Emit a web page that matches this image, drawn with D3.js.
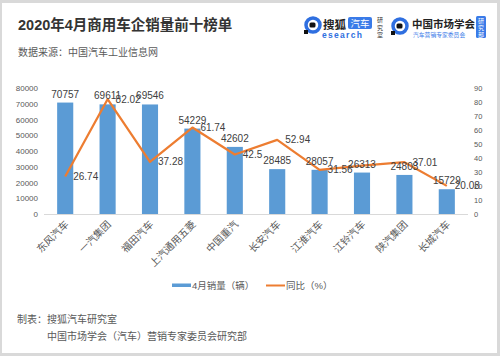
<!DOCTYPE html>
<html><head><meta charset="utf-8">
<script src="https://cdn.jsdelivr.net/npm/d3@7"></script>
<style>html,body{margin:0;padding:0;background:#fff;}svg{display:block;}
text{font-family:"Liberation Sans","Noto Sans CJK SC",sans-serif;}</style>
</head><body><svg id="c" width="500" height="356"></svg>
<script>
const categories = ['东风汽车','一汽集团','福田汽车','上汽通用五菱','中国重汽','长安汽车','江淮汽车','江铃汽车','陕汽集团','长城汽车'];
const sales = [70757,69611,69546,54229,42602,28485,28057,26313,24803,15729];
const yoy = [26.74,82.02,37.28,61.74,42.5,52.94,31.56,34.5,37.01,20.08];
const yoyLabels = ['26.74','82.02','37.28','61.74','42.5','52.94','31.56',null,'37.01','20.08'];
const leftTicks = [0,10000,20000,30000,40000,50000,60000,70000,80000];
const rightTicks = [0,10,20,30,40,50,60,70,80,90];
const title = '2020年4月商用车企销量前十榜单';
const subtitle = '数据来源：中国汽车工业信息网';
const footer1 = '制表：搜狐汽车研究室';
const footer2 = '中国市场学会（汽车）营销专家委员会研究部';
const legendNames = ['4月销量（辆）','同比（%）'];

const svg = d3.select('#c');
const CJK = '"Noto Sans CJK SC",sans-serif';
const BLUE = '#5B9BD5', ORANGE = '#ED7D31', TXT = '#404040';

// frame
svg.append('rect').attr('width',500).attr('height',356).attr('fill','#d9d9d9');
svg.append('rect').attr('x',2).attr('y',3).attr('width',495).attr('height',350).attr('fill','#fff');

// title
svg.append('text').attr('x',18).attr('y',30).attr('font-family',CJK).attr('font-weight','bold')
  .attr('font-size',14.5).attr('fill','#333').text(title);
svg.append('text').attr('x',18).attr('y',56).attr('font-family',CJK)
  .attr('font-size',10).attr('fill','#595959').text(subtitle);

// logos
function icon(cx, cy){
  svg.append('circle').attr('cx',cx).attr('cy',cy).attr('r',7).attr('fill','none').attr('stroke','#2f6fe0').attr('stroke-width',3.5);
  svg.append('rect').attr('x',cx-3.5).attr('y',cy-2.5).attr('width',6).attr('height',5).attr('rx',1.5).attr('fill','#111');
  svg.append('rect').attr('x',cx-9).attr('y',cy+5).attr('width',4).attr('height',4).attr('fill','#111');
}
icon(313, 25);
svg.append('text').attr('x',323).attr('y',29).attr('font-family',CJK).attr('font-weight','bold').attr('font-size',11.5).attr('fill','#222').text('搜狐');
svg.append('rect').attr('x',348).attr('y',17).attr('width',24).attr('height',12).attr('rx',2).attr('fill','#3a7be8');
svg.append('text').attr('x',360).attr('y',27).attr('text-anchor','middle').attr('font-family',CJK).attr('font-size',9.5).attr('fill','#fff').text('汽车');
svg.append('text').attr('x',322).attr('y',38).attr('font-size',8.5).attr('letter-spacing',1.3).attr('fill','#2f6fe0').attr('font-weight','bold').text('esearch');
['研','究','室'].forEach((c,i)=>svg.append('text').attr('x',380).attr('y',22+i*7.5).attr('text-anchor','middle').attr('font-family',CJK).attr('font-size',6).attr('fill','#333').text(c));
icon(400, 26);
svg.append('text').attr('x',412).attr('y',28).attr('font-family',CJK).attr('font-weight','bold').attr('font-size',10.5).attr('fill','#222').text('中国市场学会');
svg.append('text').attr('x',413).attr('y',37).attr('font-family',CJK).attr('font-size',5.8).attr('fill','#3a7be8').text('汽车营销专家委员会');
svg.append('rect').attr('x',476).attr('y',16).attr('width',10).attr('height',22).attr('rx',1.5).attr('fill','#3a7be8');
['研','究','部'].forEach((c,i)=>svg.append('text').attr('x',481).attr('y',22.5+i*7).attr('text-anchor','middle').attr('font-family',CJK).attr('font-size',6).attr('fill','#fff').text(c));

// scales
const x = d3.scaleBand().domain(categories).range([44,468]).paddingInner(0.62).paddingOuter(0.31);
const yL = d3.scaleLinear().domain([0,80000]).range([214,88]);
const yR = d3.scaleLinear().domain([0,90]).range([214,88]);

// axes tick labels
const axL = svg.append('g').attr('transform','translate(40,0)')
  .call(d3.axisLeft(yL).tickValues(leftTicks).tickFormat(d3.format('d')).tickSize(0).tickPadding(2));
axL.select('.domain').remove();
axL.selectAll('text').attr('font-size',8).attr('fill','#595959');
const axR = svg.append('g').attr('transform','translate(472,0)')
  .call(d3.axisRight(yR).tickValues(rightTicks).tickFormat(d3.format('d')).tickSize(0).tickPadding(2));
axR.select('.domain').remove();
axR.selectAll('text').attr('font-size',7.5).attr('fill','#595959');

// bars
svg.append('g').selectAll('rect').data(sales).join('rect')
  .attr('x',(d,i)=>x(categories[i])).attr('width',x.bandwidth())
  .attr('y',d=>yL(d)).attr('height',d=>yL(0)-yL(d)).attr('fill',BLUE);

// baseline
svg.append('line').attr('x1',44).attr('x2',468).attr('y1',214.5).attr('y2',214.5).attr('stroke','#d9d9d9');

// x labels
svg.append('g').selectAll('text').data(categories).join('text')
  .attr('transform',d=>`translate(${x(d)+x.bandwidth()/2+4},${225}) rotate(-45)`)
  .attr('text-anchor','end').attr('font-family',CJK).attr('font-size',10).attr('fill','#595959').text(d=>d);

// line
const cx = i => x(categories[i]) + x.bandwidth()/2;
svg.append('path').datum(yoy)
  .attr('d', d3.line().x((d,i)=>cx(i)).y(d=>yR(d)))
  .attr('fill','none').attr('stroke',ORANGE).attr('stroke-width',2.25).attr('stroke-linejoin','round');

// bar labels
svg.append('g').selectAll('text').data(sales).join('text')
  .attr('x',(d,i)=>cx(i)).attr('y',d=>yL(d)-5).attr('text-anchor','middle')
  .attr('font-size',10).attr('fill',TXT).text(d=>d);

// line labels
svg.append('g').selectAll('text').data(yoy).join('text')
  .attr('x',(d,i)=>cx(i)+8).attr('y',d=>yR(d)).attr('dy','0.35em')
  .attr('font-size',10).attr('fill',TXT).text((d,i)=>yoyLabels[i] === null ? '' : yoyLabels[i]);

// legend
svg.append('rect').attr('x',172).attr('y',283.5).attr('width',19).attr('height',3.5).attr('fill',BLUE);
svg.append('text').attr('x',192).attr('y',289).attr('font-family',CJK).attr('font-size',9.5).attr('fill','#595959').text(legendNames[0]);
svg.append('line').attr('x1',266).attr('x2',285).attr('y1',285.5).attr('y2',285.5).attr('stroke',ORANGE).attr('stroke-width',2);
svg.append('text').attr('x',286).attr('y',289).attr('font-family',CJK).attr('font-size',9.5).attr('fill','#595959').text(legendNames[1]);

// footer
svg.append('text').attr('x',17).attr('y',323).attr('font-family',CJK).attr('font-size',10).attr('fill','#595959').text(footer1);
svg.append('text').attr('x',47).attr('y',340).attr('font-family',CJK).attr('font-size',10).attr('fill','#595959').text(footer2);
</script></body></html>
